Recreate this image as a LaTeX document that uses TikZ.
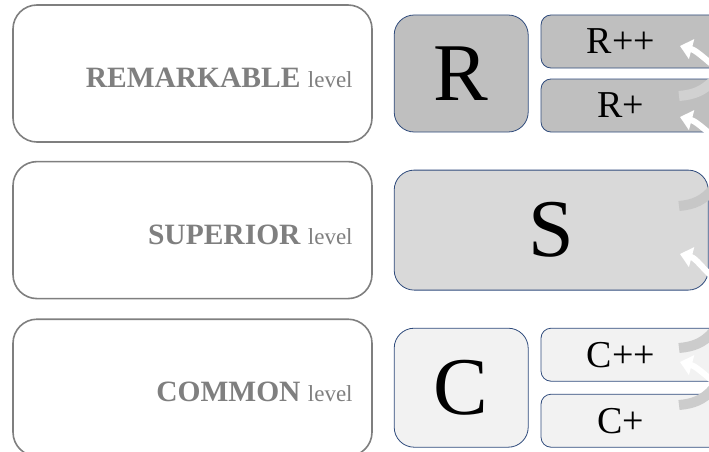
\documentclass[tikz,border=0pt]{standalone}
\usepackage{fontspec}
\setmainfont{Liberation Serif}
\usetikzlibrary{arrows.meta,positioning}
\definecolor{LevelGray}{HTML}{7F7F7F}
\definecolor{EdgeBlue}{HTML}{2F4B7C}
\definecolor{FillR}{HTML}{BFBFBF}
\definecolor{FillS}{HTML}{D9D9D9}
\definecolor{FillC}{HTML}{F2F2F2}

\begin{document}
\begin{tikzpicture}[x=1pt, y=1pt,
  node distance=18pt and 21pt,
  levelbox/.style={draw=LevelGray, line width=1.6pt, rounded corners=24pt, fill=white,
    minimum width=359pt, minimum height=137pt, inner sep=0pt},
  leveltext/.style={text=LevelGray, font=\fontsize{29.5}{32}\selectfont\bfseries, inner sep=0pt},
  gradebox/.style={draw=EdgeBlue, line width=0.8pt, rounded corners=20pt,
    minimum width=134pt, minimum height=117pt, inner sep=0pt, font=\fontsize{82}{82}\selectfont},
  subbox/.style={draw=EdgeBlue, line width=0.8pt, rounded corners=10pt,
    minimum width=200pt, minimum height=53pt, inner sep=0pt},
  subtext/.style={font=\fontsize{38}{40}\selectfont, inner sep=0pt},
  backarrow/.style={draw=white, line width=6pt, -{Triangle[width=20pt, length=12pt]}},
  arcband/.style={line width=10pt}
]
\useasboundingbox (0,0) rectangle (709,451);
\clip (0,0) rectangle (709,451);

% level frames
\node[levelbox] (remarkable) at (192.5,377.5) {};
\node[levelbox, below=of remarkable] (superior) {};
\node[levelbox, below=19pt of superior] (common) {};

\node[leveltext, anchor=base east] (remarkablelbl) at ([xshift=-20pt,yshift=-14pt]remarkable.east)
  {REMARKABLE {\mdseries\fontsize{23}{26}\selectfont level}};
\node[leveltext, anchor=base east] (superiorlbl) at ([xshift=-20pt,yshift=-14pt]superior.east)
  {SUPERIOR {\mdseries\fontsize{23}{26}\selectfont level}};
\node[leveltext, anchor=base east] (commonlbl) at ([xshift=-20pt,yshift=-14pt]common.east)
  {COMMON {\mdseries\fontsize{23}{26}\selectfont level}};

% grade boxes
\node[gradebox, fill=FillR, right=of remarkable] (rbig) {R};
\node[subbox, fill=FillR, anchor=north west] (rpp) at ([xshift=12pt]rbig.north east) {};
\node[subbox, fill=FillR, anchor=south west] (rp) at ([xshift=12pt]rbig.south east) {};
\node[subtext] (rpplbl) at ([xshift=-20pt]rpp.center) {R++};
\node[subtext] (rplbl) at ([xshift=-20pt]rp.center) {R+};

\node[gradebox, fill=FillS, minimum width=314pt, minimum height=120pt, right=of superior] (sbig) {S};

\node[gradebox, fill=FillC, minimum height=119pt, right=of common] (cbig) {C};
\node[subbox, fill=FillC, anchor=north west] (cpp) at ([xshift=12pt]cbig.north east) {};
\node[subbox, fill=FillC, anchor=south west] (cp) at ([xshift=12pt]cbig.south east) {};
\node[subtext] (cpplbl) at ([xshift=-20pt]cpp.center) {C++};
\node[subtext] (cplbl) at ([xshift=-20pt]cp.center) {C+};

% cut-off cycle arrows on the right
\draw[arcband, draw=black!18] (679,355) to[out=5,in=225] (713,370);
\draw[arcband, draw=black!22] (679,245) to[out=5,in=230] (713,262);
\draw[arcband, draw=black!20] (679,103) to[out=5,in=228] (713,119);
\draw[arcband, draw=black!20] (679,46) to[out=5,in=228] (713,62);
\draw[backarrow] (715,384) to[out=140,in=-15] (680,405);
\draw[backarrow] (715,313) to[out=140,in=-15] (680,334);
\draw[backarrow] (715,172) to[out=140,in=-15] (680,197);
\draw[backarrow] (715,68) to[out=140,in=-15] (680,89);
\end{tikzpicture}
\end{document}
